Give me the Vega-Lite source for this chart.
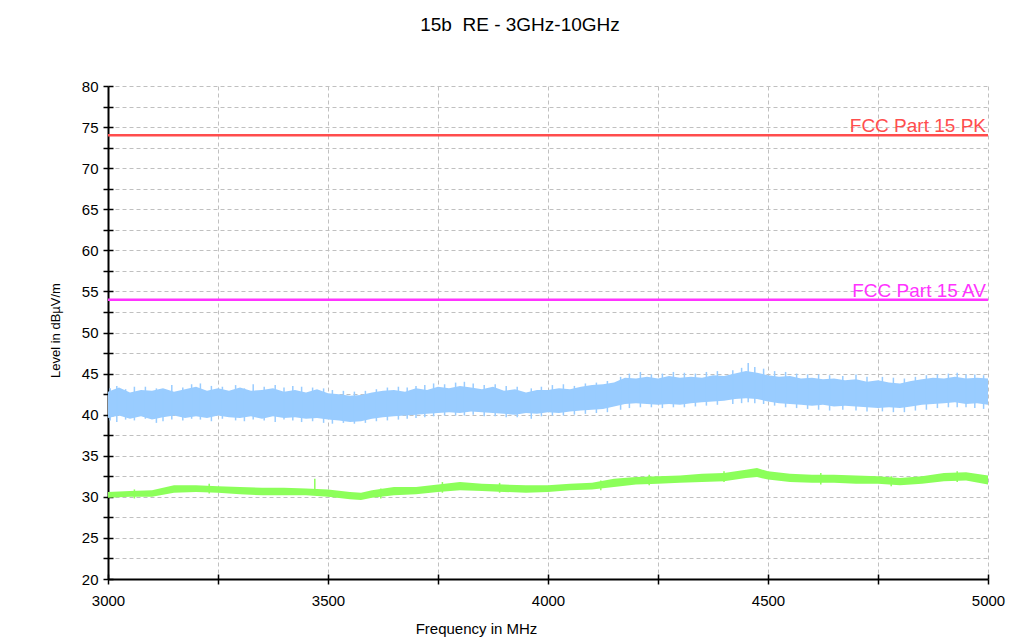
{
  "$schema": "https://vega.github.io/schema/vega-lite/v6.json",
  "width": 880,
  "height": 493,
  "autosize": "none",
  "padding": {"left": 108, "top": 86, "right": 40, "bottom": 58},
  "background": "white",
  "title": {"text": "15b\u00a0 RE - 3GHz-10GHz", "fontSize": 19, "font": "Liberation Sans", "fontWeight": "normal", "color": "#000000", "anchor": "middle", "dx": -28, "offset": 44},
  "config": {
    "view": {"stroke": null},
    "axis": {"labelFont": "Liberation Sans", "titleFont": "Liberation Sans", "labelColor": "#000000", "titleColor": "#000000", "titleFontWeight": "normal"}
  },
  "datasets": {
    "blue": [
      {"f": 3000, "lo": 39.6, "hi": 42.8}, {"f": 3025, "lo": 39.9, "hi": 43.3}, {"f": 3050, "lo": 39.5, "hi": 42.7}, {"f": 3075, "lo": 39.8, "hi": 43.0},
      {"f": 3100, "lo": 39.4, "hi": 42.9}, {"f": 3125, "lo": 39.7, "hi": 43.2}, {"f": 3150, "lo": 39.9, "hi": 42.8}, {"f": 3175, "lo": 39.6, "hi": 43.1},
      {"f": 3200, "lo": 39.8, "hi": 43.4}, {"f": 3225, "lo": 39.6, "hi": 42.9}, {"f": 3250, "lo": 39.9, "hi": 43.2}, {"f": 3275, "lo": 39.7, "hi": 42.9},
      {"f": 3300, "lo": 39.6, "hi": 43.3}, {"f": 3325, "lo": 39.8, "hi": 42.9}, {"f": 3350, "lo": 39.5, "hi": 43.0}, {"f": 3375, "lo": 39.8, "hi": 43.2},
      {"f": 3400, "lo": 39.6, "hi": 42.8}, {"f": 3425, "lo": 39.7, "hi": 43.0}, {"f": 3450, "lo": 39.5, "hi": 42.7}, {"f": 3475, "lo": 39.6, "hi": 43.1},
      {"f": 3500, "lo": 39.4, "hi": 42.6}, {"f": 3525, "lo": 39.3, "hi": 42.5}, {"f": 3550, "lo": 39.1, "hi": 42.3}, {"f": 3575, "lo": 39.2, "hi": 42.4},
      {"f": 3600, "lo": 39.5, "hi": 42.7}, {"f": 3625, "lo": 39.7, "hi": 42.9}, {"f": 3650, "lo": 39.8, "hi": 43.0}, {"f": 3675, "lo": 39.9, "hi": 42.8},
      {"f": 3700, "lo": 40.0, "hi": 43.2}, {"f": 3725, "lo": 40.1, "hi": 43.0}, {"f": 3750, "lo": 40.2, "hi": 43.4}, {"f": 3775, "lo": 40.3, "hi": 43.2},
      {"f": 3800, "lo": 40.2, "hi": 43.5}, {"f": 3825, "lo": 40.4, "hi": 43.3}, {"f": 3850, "lo": 40.3, "hi": 43.1}, {"f": 3875, "lo": 40.2, "hi": 43.4},
      {"f": 3900, "lo": 40.1, "hi": 42.9}, {"f": 3925, "lo": 40.0, "hi": 43.1}, {"f": 3950, "lo": 40.2, "hi": 42.7}, {"f": 3975, "lo": 40.1, "hi": 43.0},
      {"f": 4000, "lo": 40.3, "hi": 43.0}, {"f": 4025, "lo": 40.2, "hi": 43.2}, {"f": 4050, "lo": 40.4, "hi": 43.1}, {"f": 4075, "lo": 40.5, "hi": 43.4},
      {"f": 4100, "lo": 40.6, "hi": 43.6}, {"f": 4125, "lo": 40.7, "hi": 43.7}, {"f": 4150, "lo": 41.0, "hi": 43.9}, {"f": 4175, "lo": 41.3, "hi": 44.5},
      {"f": 4200, "lo": 41.4, "hi": 44.4}, {"f": 4225, "lo": 41.3, "hi": 44.6}, {"f": 4250, "lo": 41.2, "hi": 44.4}, {"f": 4275, "lo": 41.3, "hi": 44.7},
      {"f": 4300, "lo": 41.2, "hi": 44.5}, {"f": 4325, "lo": 41.4, "hi": 44.6}, {"f": 4350, "lo": 41.5, "hi": 44.5}, {"f": 4375, "lo": 41.6, "hi": 44.8},
      {"f": 4400, "lo": 41.7, "hi": 44.7}, {"f": 4425, "lo": 41.9, "hi": 45.0}, {"f": 4450, "lo": 42.0, "hi": 45.3}, {"f": 4475, "lo": 41.9, "hi": 45.1},
      {"f": 4500, "lo": 41.6, "hi": 44.8}, {"f": 4525, "lo": 41.4, "hi": 44.6}, {"f": 4550, "lo": 41.3, "hi": 44.7}, {"f": 4575, "lo": 41.2, "hi": 44.4},
      {"f": 4600, "lo": 41.1, "hi": 44.5}, {"f": 4625, "lo": 41.2, "hi": 44.3}, {"f": 4650, "lo": 41.0, "hi": 44.4}, {"f": 4675, "lo": 41.1, "hi": 44.2},
      {"f": 4700, "lo": 41.0, "hi": 44.3}, {"f": 4725, "lo": 40.9, "hi": 44.0}, {"f": 4750, "lo": 40.8, "hi": 44.2}, {"f": 4775, "lo": 40.9, "hi": 43.9},
      {"f": 4800, "lo": 40.8, "hi": 43.8}, {"f": 4825, "lo": 41.0, "hi": 44.1}, {"f": 4850, "lo": 41.2, "hi": 44.3}, {"f": 4875, "lo": 41.3, "hi": 44.5},
      {"f": 4900, "lo": 41.4, "hi": 44.4}, {"f": 4925, "lo": 41.5, "hi": 44.6}, {"f": 4950, "lo": 41.3, "hi": 44.4}, {"f": 4975, "lo": 41.4, "hi": 44.5},
      {"f": 5000, "lo": 41.2, "hi": 44.4}
    ],
    "blueSpikes": [
      {"f": 3020, "lo": 39.1, "hi": 43.5}, {"f": 3060, "lo": 39.3, "hi": 43.4}, {"f": 3110, "lo": 39.0, "hi": 43.2}, {"f": 3145, "lo": 39.4, "hi": 43.6},
      {"f": 3190, "lo": 39.5, "hi": 43.7}, {"f": 3235, "lo": 39.2, "hi": 43.5}, {"f": 3290, "lo": 39.3, "hi": 43.6}, {"f": 3330, "lo": 39.4, "hi": 43.7},
      {"f": 3380, "lo": 39.1, "hi": 43.6}, {"f": 3420, "lo": 39.3, "hi": 43.5}, {"f": 3465, "lo": 39.2, "hi": 43.3}, {"f": 3510, "lo": 38.9, "hi": 43.0},
      {"f": 3560, "lo": 38.9, "hi": 42.8}, {"f": 3610, "lo": 39.2, "hi": 43.1}, {"f": 3660, "lo": 39.4, "hi": 43.4}, {"f": 3700, "lo": 39.6, "hi": 43.5},
      {"f": 3740, "lo": 39.8, "hi": 43.8}, {"f": 3790, "lo": 39.9, "hi": 43.9}, {"f": 3830, "lo": 40.0, "hi": 43.8}, {"f": 3880, "lo": 39.8, "hi": 43.7},
      {"f": 3930, "lo": 39.7, "hi": 43.4}, {"f": 3962, "lo": 39.5, "hi": 43.2}, {"f": 4010, "lo": 39.9, "hi": 43.6}, {"f": 4060, "lo": 40.0, "hi": 43.5},
      {"f": 4110, "lo": 40.2, "hi": 43.9}, {"f": 4165, "lo": 40.6, "hi": 44.6}, {"f": 4210, "lo": 40.9, "hi": 45.2}, {"f": 4260, "lo": 40.8, "hi": 45.0},
      {"f": 4310, "lo": 40.9, "hi": 45.1}, {"f": 4360, "lo": 41.1, "hi": 45.2}, {"f": 4420, "lo": 41.3, "hi": 45.4}, {"f": 4455, "lo": 41.5, "hi": 46.3},
      {"f": 4490, "lo": 41.3, "hi": 45.6}, {"f": 4540, "lo": 40.9, "hi": 45.2}, {"f": 4590, "lo": 40.7, "hi": 44.9}, {"f": 4640, "lo": 40.5, "hi": 44.8},
      {"f": 4700, "lo": 40.5, "hi": 44.9}, {"f": 4760, "lo": 40.4, "hi": 44.6}, {"f": 4810, "lo": 40.3, "hi": 44.4}, {"f": 4860, "lo": 40.6, "hi": 44.8},
      {"f": 4910, "lo": 40.9, "hi": 45.0}, {"f": 4950, "lo": 40.9, "hi": 44.9}, {"f": 4990, "lo": 40.7, "hi": 44.8},
      {"f": 3005, "lo": 39.3, "hi": 43.2}, {"f": 3040, "lo": 39.4, "hi": 43.1}, {"f": 3085, "lo": 39.5, "hi": 43.4}, {"f": 3125, "lo": 39.2, "hi": 43.0},
      {"f": 3170, "lo": 39.3, "hi": 43.3}, {"f": 3210, "lo": 39.4, "hi": 43.8}, {"f": 3260, "lo": 39.5, "hi": 43.4}, {"f": 3310, "lo": 39.2, "hi": 43.2},
      {"f": 3355, "lo": 39.3, "hi": 43.4}, {"f": 3400, "lo": 39.4, "hi": 43.3}, {"f": 3440, "lo": 39.1, "hi": 43.4}, {"f": 3490, "lo": 39.0, "hi": 43.2},
      {"f": 3535, "lo": 39.0, "hi": 42.9}, {"f": 3585, "lo": 39.0, "hi": 42.9}, {"f": 3635, "lo": 39.3, "hi": 43.3}, {"f": 3680, "lo": 39.5, "hi": 43.3},
      {"f": 3720, "lo": 39.7, "hi": 43.6}, {"f": 3765, "lo": 39.9, "hi": 43.7}, {"f": 3810, "lo": 39.9, "hi": 44.0}, {"f": 3855, "lo": 39.8, "hi": 43.6},
      {"f": 3905, "lo": 39.7, "hi": 43.5}, {"f": 3985, "lo": 39.8, "hi": 43.4}, {"f": 4035, "lo": 39.9, "hi": 43.7}, {"f": 4085, "lo": 40.1, "hi": 43.8},
      {"f": 4135, "lo": 40.3, "hi": 44.1}, {"f": 4185, "lo": 40.8, "hi": 45.0}, {"f": 4235, "lo": 40.9, "hi": 44.9}, {"f": 4285, "lo": 40.9, "hi": 45.2},
      {"f": 4335, "lo": 41.0, "hi": 45.0}, {"f": 4385, "lo": 41.2, "hi": 45.3}, {"f": 4440, "lo": 41.4, "hi": 45.7}, {"f": 4470, "lo": 41.4, "hi": 45.8},
      {"f": 4515, "lo": 41.1, "hi": 45.3}, {"f": 4565, "lo": 40.8, "hi": 45.0}, {"f": 4615, "lo": 40.6, "hi": 44.9}, {"f": 4670, "lo": 40.6, "hi": 44.7},
      {"f": 4725, "lo": 40.4, "hi": 44.6}, {"f": 4785, "lo": 40.3, "hi": 44.5}, {"f": 4835, "lo": 40.5, "hi": 44.6}, {"f": 4885, "lo": 40.8, "hi": 44.9},
      {"f": 4930, "lo": 40.9, "hi": 45.1}, {"f": 4970, "lo": 40.8, "hi": 44.9}
    ],
    "green": [
      {"f": 3000, "lo": 29.9, "hi": 30.6}, {"f": 3050, "lo": 30.0, "hi": 30.7}, {"f": 3100, "lo": 30.0, "hi": 30.8}, {"f": 3150, "lo": 30.5, "hi": 31.4},
      {"f": 3200, "lo": 30.6, "hi": 31.4}, {"f": 3250, "lo": 30.5, "hi": 31.3}, {"f": 3300, "lo": 30.3, "hi": 31.2}, {"f": 3350, "lo": 30.2, "hi": 31.1},
      {"f": 3400, "lo": 30.2, "hi": 31.1}, {"f": 3450, "lo": 30.2, "hi": 31.0}, {"f": 3500, "lo": 30.0, "hi": 30.9}, {"f": 3550, "lo": 29.7, "hi": 30.6},
      {"f": 3575, "lo": 29.6, "hi": 30.5}, {"f": 3600, "lo": 29.9, "hi": 30.8}, {"f": 3650, "lo": 30.2, "hi": 31.2}, {"f": 3700, "lo": 30.3, "hi": 31.2},
      {"f": 3750, "lo": 30.6, "hi": 31.5}, {"f": 3800, "lo": 30.8, "hi": 31.8}, {"f": 3850, "lo": 30.7, "hi": 31.6}, {"f": 3900, "lo": 30.6, "hi": 31.5},
      {"f": 3950, "lo": 30.5, "hi": 31.4}, {"f": 4000, "lo": 30.6, "hi": 31.4}, {"f": 4050, "lo": 30.8, "hi": 31.6}, {"f": 4100, "lo": 30.9, "hi": 31.7},
      {"f": 4150, "lo": 31.2, "hi": 32.2}, {"f": 4200, "lo": 31.5, "hi": 32.4}, {"f": 4250, "lo": 31.6, "hi": 32.5}, {"f": 4300, "lo": 31.7, "hi": 32.6},
      {"f": 4350, "lo": 31.8, "hi": 32.8}, {"f": 4400, "lo": 31.9, "hi": 32.9}, {"f": 4450, "lo": 32.3, "hi": 33.3}, {"f": 4475, "lo": 32.4, "hi": 33.5},
      {"f": 4500, "lo": 32.1, "hi": 33.1}, {"f": 4550, "lo": 31.8, "hi": 32.8}, {"f": 4600, "lo": 31.7, "hi": 32.7}, {"f": 4650, "lo": 31.7, "hi": 32.7},
      {"f": 4700, "lo": 31.6, "hi": 32.6}, {"f": 4750, "lo": 31.6, "hi": 32.5}, {"f": 4800, "lo": 31.4, "hi": 32.3}, {"f": 4850, "lo": 31.6, "hi": 32.5},
      {"f": 4900, "lo": 31.9, "hi": 32.9}, {"f": 4950, "lo": 32.0, "hi": 33.0}, {"f": 5000, "lo": 31.5, "hi": 32.6}
    ],
    "greenSpikes": [
      {"f": 3470, "lo": 30.3, "hi": 32.2}, {"f": 3760, "lo": 30.5, "hi": 31.8}, {"f": 4120, "lo": 30.8, "hi": 32.0}, {"f": 4400, "lo": 31.8, "hi": 33.1}, {"f": 4620, "lo": 31.5, "hi": 32.9},
      {"f": 3060, "lo": 29.8, "hi": 30.9}, {"f": 3230, "lo": 30.4, "hi": 31.6}, {"f": 3620, "lo": 29.8, "hi": 31.0}, {"f": 3890, "lo": 30.5, "hi": 31.7},
      {"f": 4230, "lo": 31.4, "hi": 32.7}, {"f": 4780, "lo": 31.3, "hi": 32.5}, {"f": 4930, "lo": 31.8, "hi": 33.1}
    ],
    "limits": [
      {"name": "FCC Part 15 PK", "level": 74},
      {"name": "FCC Part 15 AV", "level": 54}
    ]
  },
  "resolve": {"axis": {"x": "independent", "y": "independent"}},
  "layer": [
    {
      "data": {"name": "blue"},
      "mark": {"type": "area", "color": "#99ccff", "opacity": 1},
      "encoding": {
        "x": {"field": "f", "type": "quantitative", "scale": {"domain": [3000, 5000], "nice": false, "zero": false},
          "axis": {"orient": "bottom", "values": [3000, 3250, 3500, 3750, 4000, 4250, 4500, 4750, 5000], "format": "d",
            "labelExpr": "datum.value % 500 === 0 ? datum.label : ''", "labelFontSize": 15, "labelPadding": 9, "labelFlush": false, "labelOverlap": false,
            "domainColor": "#000000", "domainWidth": 2, "tickColor": "#000000", "tickWidth": 1.5, "tickSize": 5,
            "grid": true, "gridColor": "#c0c0c0", "gridDash": [4, 3], "gridWidth": 1,
            "title": "Frequency in MHz", "titleFontSize": 15, "titleX": 368, "titleY": 54, "titleAnchor": null, "titleAlign": "center", "titleBaseline": "alphabetic"}},
        "y": {"field": "lo", "type": "quantitative", "scale": {"domain": [20, 80], "nice": false, "zero": false},
          "axis": {"orient": "left", "values": [20, 22.5, 25, 27.5, 30, 32.5, 35, 37.5, 40, 42.5, 45, 47.5, 50, 52.5, 55, 57.5, 60, 62.5, 65, 67.5, 70, 72.5, 75, 77.5, 80],
            "labelExpr": "datum.value % 5 === 0 ? datum.label : ''", "labelFontSize": 15, "labelPadding": 5, "labelFlush": false, "labelOverlap": false,
            "domainColor": "#000000", "domainWidth": 2, "tickColor": "#000000", "tickWidth": 1.5, "tickSize": 5,
            "grid": true, "gridColor": "#c0c0c0", "gridDash": [4, 3], "gridWidth": 1,
            "title": "Level in dBµV/m", "titleFontSize": 13, "titleAngle": -90, "titleX": -53, "titleY": 244, "titleAlign": "center", "titleBaseline": "middle"}},
        "y2": {"field": "hi"}
      }
    },
    {
      "data": {"name": "blueSpikes"},
      "mark": {"type": "rule", "color": "#99ccff", "strokeWidth": 1.5},
      "encoding": {
        "x": {"field": "f", "type": "quantitative", "axis": null},
        "y": {"field": "lo", "type": "quantitative", "axis": null},
        "y2": {"field": "hi"}
      }
    },
    {
      "data": {"name": "green"},
      "mark": {"type": "area", "color": "#8cff5a", "opacity": 1},
      "encoding": {
        "x": {"field": "f", "type": "quantitative",
          "axis": {"orient": "bottom", "values": [3000, 3250, 3500, 3750, 4000, 4250, 4500, 4750, 5000], "labels": false, "domain": false, "grid": false, "title": null,
            "tickColor": "#000000", "tickWidth": 1.5, "tickSize": -5}},
        "y": {"field": "lo", "type": "quantitative",
          "axis": {"orient": "left", "values": [20, 22.5, 25, 27.5, 30, 32.5, 35, 37.5, 40, 42.5, 45, 47.5, 50, 52.5, 55, 57.5, 60, 62.5, 65, 67.5, 70, 72.5, 75, 77.5, 80],
            "labels": false, "domain": false, "grid": false, "title": null, "tickColor": "#000000", "tickWidth": 1.5, "tickSize": -5}},
        "y2": {"field": "hi"}
      }
    },
    {
      "data": {"name": "greenSpikes"},
      "mark": {"type": "rule", "color": "#8cff5a", "strokeWidth": 1.5},
      "encoding": {
        "x": {"field": "f", "type": "quantitative", "axis": null},
        "y": {"field": "lo", "type": "quantitative", "axis": null},
        "y2": {"field": "hi"}
      }
    },
    {
      "data": {"name": "limits"},
      "mark": {"type": "rule", "strokeWidth": 2.5},
      "encoding": {
        "y": {"field": "level", "type": "quantitative", "axis": null},
        "color": {"field": "name", "type": "nominal", "scale": {"domain": ["FCC Part 15 PK", "FCC Part 15 AV"], "range": ["#ff4d4d", "#ff33ff"]}, "legend": null}
      }
    },
    {
      "data": {"name": "limits"},
      "mark": {"type": "text", "align": "right", "baseline": "alphabetic", "dx": -2, "dy": -3, "fontSize": 19, "font": "Liberation Sans"},
      "encoding": {
        "x": {"datum": 5000, "type": "quantitative", "axis": null},
        "y": {"field": "level", "type": "quantitative", "axis": null},
        "text": {"field": "name"},
        "color": {"field": "name", "type": "nominal", "scale": {"domain": ["FCC Part 15 PK", "FCC Part 15 AV"], "range": ["#ff4d4d", "#ff33ff"]}, "legend": null}
      }
    }
  ]
}
